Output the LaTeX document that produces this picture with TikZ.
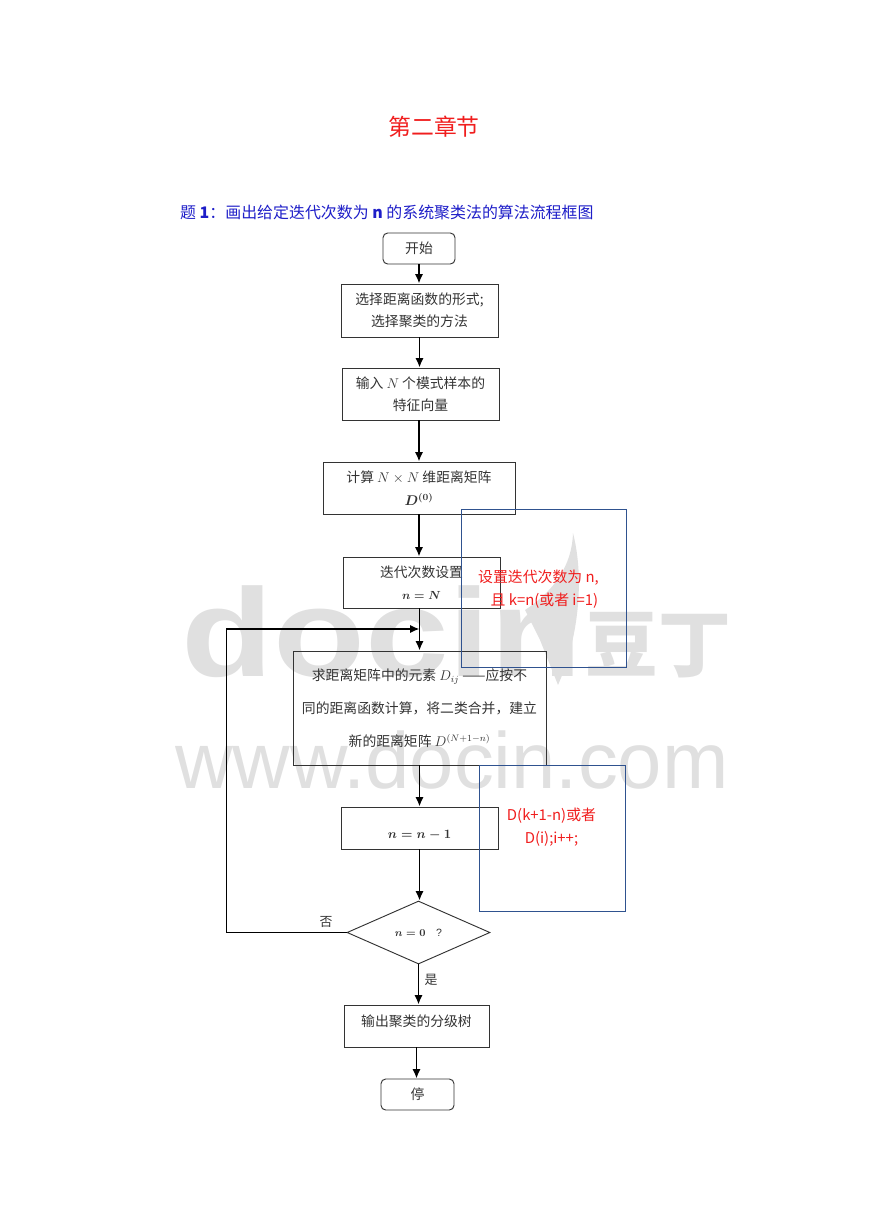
\documentclass[tikz,border=0pt]{standalone}
\usepackage{fontspec}
\usepackage{graphicx}
\setmainfont{Liberation Sans}
\newfontfamily\cjk{Noto Sans CJK SC}
\usetikzlibrary{shapes.geometric}
\usetikzlibrary{arrows.meta}

\definecolor{inkgray}{gray}{0.2}
\definecolor{markgray}{gray}{0.88}
\definecolor{titlered}{RGB}{240,30,30}
\definecolor{titleblue}{RGB}{30,30,200}
\definecolor{noteblue}{RGB}{47,82,143}

\tikzset{
  box/.style 2 args={draw=black!80, thick, inner sep=0pt, align=center, text=inkgray,
    font=\cjk\fontsize{11.8}{19.2}\selectfont,
    minimum width=#1*0.03cm, minimum height=#2*0.03cm},
  endbox/.style 2 args={box={#1}{#2}, rounded corners=4pt},
  notebox/.style={draw=noteblue, semithick},
  notetext/.style={text=titlered, align=center, font=\cjk\fontsize{12.7}{19.6}\selectfont},
  flow/.style={draw=black, line width=1.5pt, -{Latex[length=8pt,width=7pt]}},
  flowthin/.style={draw=black, line width=0.8pt},
  markword/.style={text=markgray, inner sep=0pt, font=\bfseries\fontsize{#1}{#1}\selectfont}
}

\begin{document}
\begin{tikzpicture}[x=0.03cm,y=-0.03cm]

\useasboundingbox (0,0) rectangle (869,1228);

    %%% watermark
    \node[markword=107, anchor=base west] (markdoc) at (181,676) {\scalebox{1.2}[1]{docin}};
    \node[text=markgray, inner sep=0pt, font=\cjk\bfseries\fontsize{62}{62}\selectfont] (markdou) at (658,645) {豆丁};
    \node[text=markgray, inner sep=0pt, font=\fontsize{68}{68}\selectfont, anchor=base west] (markweb) at (175,788) {www.docin.com};
    \fill[markgray] (525,610) .. controls (555,590) and (572,565) .. (573,533) .. controls (585,580) and (578,640) .. (558,685) -- (540,640) -- cycle;

    %%% headings
    \node[text=titlered, font=\cjk\fontsize{19.5}{20}\selectfont] (chaptertitle) at (434,127) {第二章节};
    \node[text=titleblue, font=\cjk\fontsize{13.6}{15}\selectfont, anchor=west, inner sep=0pt] (questiontitle) at (180,212) {题 \textbf{1}：画出给定迭代次数为 \textbf{n} 的系统聚类法的算法流程框图};

    %%% flow
    \node[endbox={72}{31}] (start) at (419,248.5) {开始};
    \node[box={157}{53}] (choose) at (419.5,310.5) {选择距离函数的形式;\\选择聚类的方法};
    \node[box={157}{52}] (input) at (420.5,394) {输入 $N$ 个模式样本的\\特征向量};
    \node[box={192}{52}] (matrix) at (419,488) {计算 $N\times N$ 维距离矩阵\\{\boldmath$D^{(0)}$}};
    \node[box={157}{51}] (iter) at (421.5,582.5) {迭代次数设置\\{\fontsize{10}{12}\selectfont\boldmath$n=N$}};
    \node[box={253}{114}, font=\cjk\fontsize{11.8}{28}\selectfont] (merge) at (419.5,708) {求距离矩阵中的元素 $D_{ij}$ ——应按不\\同的距离函数计算，将二类合并，建立\\新的距离矩阵 $D^{(N+1-n)}$};
    \node[box={157}{42}] (minus) at (419.5,828) {\raisebox{-9pt}[0pt][0pt]{\fontsize{10.5}{12}\selectfont\boldmath$n=n-1$}};
    \node[draw=black!80, thick, shape=diamond, aspect=2.27, inner sep=0pt, text=inkgray, font=\fontsize{9}{10}\selectfont,
      minimum width=143*0.03cm, minimum height=63*0.03cm] (test) at (418.5,932.5) {{\boldmath$n=0$}\quad ?};
    \node[box={145}{42}] (output) at (416.5,1026) {\raisebox{0pt}[0pt][0pt]{输出聚类的分级树}};
    \node[endbox={73}{31}] (stop) at (417.5,1094.5) {停};

    \coordinate (loopA) at (226,932.5);
    \coordinate (loopB) at (226,629);
    \coordinate (loopC) at (419.5,629);

    \draw[flow] (start) -- (start |- choose.north);
    \draw[flow] (choose) -- (choose |- input.north);
    \draw[flow] (matrix |- input.south) -- (matrix.north);
    \draw[flow] (matrix) -- (matrix |- iter.north);
    \draw[flow] (merge |- iter.south) -- (merge.north);
    \draw[flow] (merge) -- (merge |- minus.north);
    \draw[flow] (minus) -- (minus |- test.north);
    \draw[flow] (test) -- (test |- output.north);
    \draw[flow] (output) -- (output |- stop.north);
    \draw[flowthin] (test.west) -- (loopA) -- (loopB);
    \draw[flow] (loopB) -- (loopC);

    \node[text=inkgray, font=\cjk\fontsize{11}{12}\selectfont] (nolabel) at (326,922) {否};
    \node[text=inkgray, font=\cjk\fontsize{11}{12}\selectfont] (yeslabel) at (431,980) {是};

    %%% notes
    \draw[notebox] (461,509) rectangle (626,667);
    \draw[notebox] (479,765) rectangle (625,911);
    \node[notetext] (notefirst) at (538.5,589) {设置迭代次数为 n,\\\hspace*{10pt}且 k=n(或者 i=1)};
    \node[notetext] (notesecond) at (551.5,827) {D(k+1-n)或者\\D(i);i++;};

\end{tikzpicture}
\end{document}
